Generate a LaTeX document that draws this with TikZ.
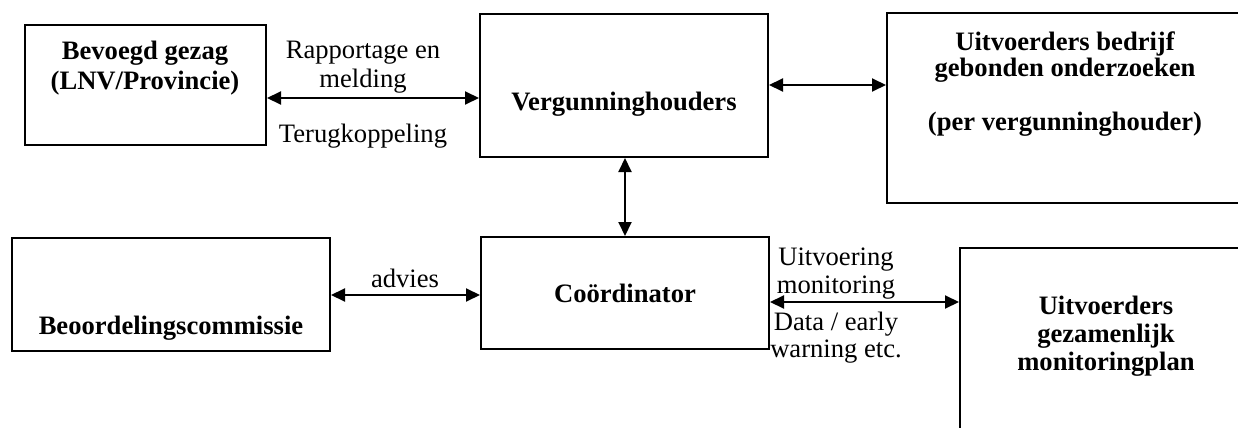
\documentclass[tikz,border=0pt]{standalone}
\usepackage{fontspec}
\setmainfont{Liberation Serif}
\usetikzlibrary{arrows.meta,fit}
\begin{document}
\begin{tikzpicture}[x=0.5pt,y=-0.5pt,
  box/.style={draw, line width=1pt, inner sep=0pt},
  lbl/.style={anchor=base, inner sep=0pt, font=\fontsize{13.3pt}{15pt}\selectfont},
  blbl/.style={anchor=base, inner sep=0pt, font=\fontsize{13.3pt}{15pt}\selectfont\bfseries},
  link/.style={line width=1pt,
    {Triangle[length=7pt,width=6.5pt]}-{Triangle[length=7pt,width=6.5pt]}}]
\useasboundingbox (0,0) rectangle (1238,428);
\fill[white] (0,0) rectangle (1238,428);
\clip (0,0) rectangle (1238,428);

% boxes
\node[box, fit={(25,25) (266,145)}] (gezag) {};
\node[box, fit={(480,14) (768,157)}] (verg) {};
\node[box, fit={(887,13) (1245,203)}] (bedrijf) {};
\node[box, fit={(12,238) (330,351)}] (beoord) {};
\node[box, fit={(481,237) (769,349)}] (coord) {};
\node[box, fit={(960,248) (1250,440)}] (gezam) {};

% box texts
\node[blbl] (gezag1) at (145,60) {Bevoegd gezag};
\node[blbl] (gezag2) at (145,89) {(LNV/Provincie)};
\node[blbl] (verg1) at (624,110) {Vergunninghouders};
\node[blbl] (bedr1) at (1065,50) {Uitvoerders bedrijf};
\node[blbl] (bedr2) at (1065,76) {gebonden onderzoeken};
\node[blbl] (bedr3) at (1065,130) {(per vergunninghouder)};
\node[blbl] (beoord1) at (171,334) {Beoordelingscommissie};
\node[blbl] (coord1) at (625,302) {Coördinator};
\node[blbl] (gezam1) at (1106,314) {Uitvoerders};
\node[blbl] (gezam2) at (1106,342) {gezamenlijk};
\node[blbl] (gezam3) at (1106,370) {monitoringplan};

% connector heights
\coordinate (yrap) at (0,98);
\coordinate (ybed) at (0,85);
\coordinate (yadv) at (0,295);
\coordinate (ymon) at (0,302);

% connectors
\draw[link] (gezag.east |- yrap) -- (verg.west |- yrap);
\draw[link] (verg.east |- ybed) -- (bedrijf.west |- ybed);
\draw[link] (coord.north |- verg.south) -- (coord.north);
\draw[link] (beoord.east |- yadv) -- (coord.west |- yadv);
\draw[link] (coord.east |- ymon) -- (gezam.west |- ymon);

% connector labels
\node[lbl] (rap1) at (363,58) {Rapportage en};
\node[lbl] (rap2) at (363,87) {melding};
\node[lbl] (terug) at (363,142) {Terugkoppeling};
\node[lbl] (advies) at (405,287) {advies};
\node[lbl] (mon1) at (836,265) {Uitvoering};
\node[lbl] (mon2) at (836,293) {monitoring};
\node[lbl] (mon3) at (836,330) {Data / early};
\node[lbl] (mon4) at (836,357) {warning etc.};
\end{tikzpicture}
\end{document}
